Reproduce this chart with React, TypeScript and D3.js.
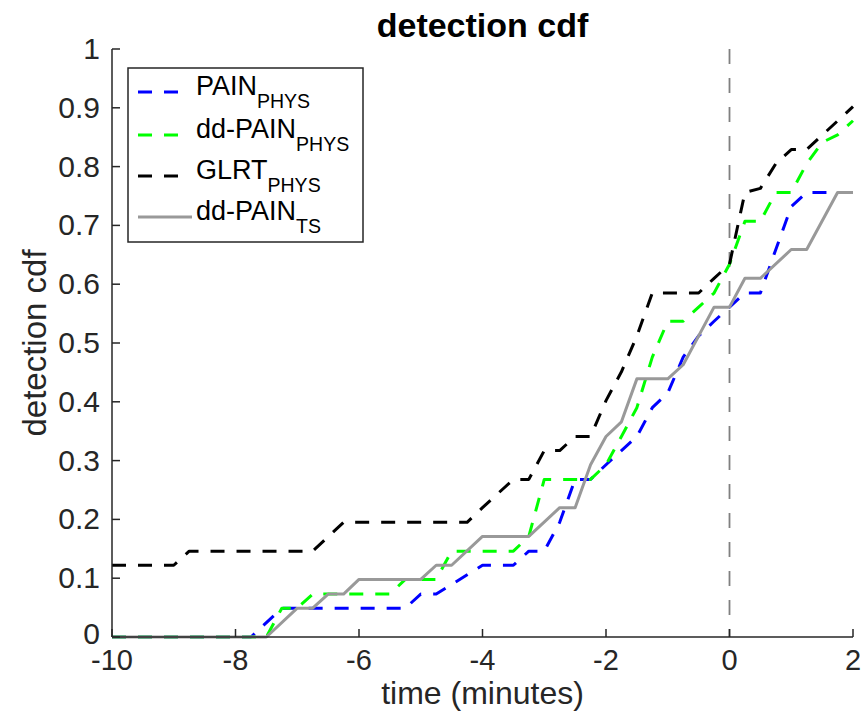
import React from "react";
import * as d3 from "d3";

const xTicks = [-10, -8, -6, -4, -2, 0, 2];
const yTicks = [0, 0.1, 0.2, 0.3, 0.4, 0.5, 0.6, 0.7, 0.8, 0.9, 1];
const yTickLabels = ["0", "0.1", "0.2", "0.3", "0.4", "0.5", "0.6", "0.7", "0.8", "0.9", "1"];

const painT = [-10, -7.75, -7.25, -5.25, -5, -4.75, -4, -3.5, -3.25, -3, -2.75, -2.5, -2.25, -2, -1.75, -1.5, -1.25, -1, -0.75, -0.5, -0.25, 0, 0.25, 0.5, 0.75, 1, 1.25, 2];
const painV = [0, 0, 0.049, 0.049, 0.073, 0.073, 0.122, 0.122, 0.146, 0.146, 0.195, 0.268, 0.268, 0.293, 0.317, 0.341, 0.39, 0.415, 0.476, 0.512, 0.537, 0.561, 0.585, 0.585, 0.659, 0.732, 0.756, 0.756];

const ddPainT = [-10, -7.5, -7.25, -7, -6.75, -5.5, -5.25, -4.75, -4.5, -3.5, -3.25, -3, -2.25, -2, -1.75, -1.5, -1.25, -1, -0.75, -0.5, -0.25, 0, 0.25, 0.5, 0.75, 1, 1.25, 1.5, 1.75, 2];
const ddPainV = [0, 0, 0.049, 0.049, 0.073, 0.073, 0.098, 0.098, 0.146, 0.146, 0.171, 0.268, 0.268, 0.293, 0.341, 0.39, 0.476, 0.537, 0.537, 0.561, 0.585, 0.634, 0.707, 0.707, 0.756, 0.756, 0.805, 0.841, 0.854, 0.878];

const glrtT = [-10, -9, -8.75, -6.75, -6.25, -4.25, -4, -3.5, -3.25, -3, -2.75, -2.5, -2.25, -2, -1.75, -1.5, -1.25, -0.5, -0.25, 0, 0.25, 0.5, 0.75, 1, 1.25, 2];
const glrtV = [0.122, 0.122, 0.146, 0.146, 0.195, 0.195, 0.22, 0.268, 0.268, 0.317, 0.317, 0.341, 0.341, 0.402, 0.451, 0.512, 0.585, 0.585, 0.61, 0.634, 0.756, 0.763, 0.805, 0.829, 0.829, 0.902];

const tsT = [-10, -7.5, -7, -6.75, -6.5, -6.25, -6, -5, -4.75, -4.5, -4, -3.25, -2.75, -2.5, -2.25, -2, -1.75, -1.5, -1, -0.75, -0.25, 0, 0.25, 0.5, 1, 1.25, 1.75, 2];
const tsV = [0, 0, 0.049, 0.049, 0.073, 0.073, 0.098, 0.098, 0.122, 0.122, 0.171, 0.171, 0.22, 0.22, 0.293, 0.341, 0.366, 0.439, 0.439, 0.463, 0.561, 0.561, 0.61, 0.61, 0.659, 0.659, 0.756, 0.756];

const seriesNames = ["PAIN", "dd-PAIN", "GLRT", "dd-PAIN"];
const seriesSubs = ["PHYS", "PHYS", "PHYS", "TS"];
const seriesColors = ["#0000ff", "#00ff00", "#000000", "#999999"];
const seriesDash = ["14 12", "14 12", "14 12", ""];

const W = 868;
const H = 715;
const M = { left: 112, right: 853, top: 49, bottom: 637 };
const FONT = "'Liberation Sans', Arial, Helvetica, sans-serif";
const AX = "#262626";

export default function App() {
  const x = d3.scaleLinear().domain([-10, 2]).range([M.left, M.right]);
  const y = d3.scaleLinear().domain([0, 1]).range([M.bottom, M.top]);
  const line = d3
    .line<[number, number]>()
    .x((d) => x(d[0]))
    .y((d) => y(d[1]));

  const series = [
    d3.zip(painT, painV),
    d3.zip(ddPainT, ddPainV),
    d3.zip(glrtT, glrtV),
    d3.zip(tsT, tsV),
  ] as [number, number][][];

  const legX = 128;
  const legY = 68;
  const legW = 235;
  const legH = 174;
  const rowY = [92, 135, 176, 217];

  return (
    <svg width={W} height={H} style={{ display: "block", position: "absolute", left: 0, top: 0, background: "#fff" }} fontFamily={FONT}>
      <rect x={0} y={0} width={W} height={H} fill="#fff" />
      <line x1={x(0)} x2={x(0)} y1={y(1)} y2={y(0)} stroke="#808080" strokeWidth={1.8} strokeDasharray="15 14" />
      {series.map((s, i) => (
        <path
          key={i}
          d={line(s) || ""}
          fill="none"
          stroke={seriesColors[i]}
          strokeWidth={3}
          strokeDasharray={seriesDash[i] || undefined}
          strokeLinejoin="round"
        />
      ))}
      <line x1={M.left} x2={M.left} y1={M.top} y2={M.bottom} stroke={AX} strokeWidth={1.5} />
      <line x1={M.left} x2={M.right} y1={M.bottom} y2={M.bottom} stroke={AX} strokeWidth={1.5} />
      {yTicks.map((t, i) => (
        <g key={"y" + i}>
          <line x1={M.left} x2={M.left + 8} y1={y(t)} y2={y(t)} stroke={AX} strokeWidth={1.5} />
          <text x={M.left - 12} y={y(t)} dy={t === 0 ? "0.22em" : "0.33em"} textAnchor="end" fontSize={30} fill={AX}>
            {yTickLabels[i]}
          </text>
        </g>
      ))}
      {xTicks.map((t, i) => (
        <g key={"x" + i}>
          <line x1={x(t)} x2={x(t)} y1={M.bottom} y2={M.bottom - 8} stroke={AX} strokeWidth={1.5} />
          <text x={x(t)} y={M.bottom + 33} textAnchor="middle" fontSize={29} fill={AX}>
            {String(t)}
          </text>
        </g>
      ))}
      <text x={(M.left + M.right) / 2} y={704} textAnchor="middle" fontSize={32} fill={AX}>
        time (minutes)
      </text>
      <text transform={`translate(46, ${(M.top + M.bottom) / 2}) rotate(-90)`} textAnchor="middle" fontSize={33} fill={AX}>
        detection cdf
      </text>
      <text x={(M.left + M.right) / 2} y={37} textAnchor="middle" fontSize={34} fontWeight="bold" fill="#000">
        detection cdf
      </text>
      <rect x={legX} y={legY} width={legW} height={legH} fill="#fff" stroke={AX} strokeWidth={1.5} />
      {seriesNames.map((n, i) => (
        <g key={"l" + i}>
          <line
            x1={legX + 10}
            x2={i === 3 ? legX + 64 : legX + 52}
            y1={rowY[i]}
            y2={rowY[i]}
            stroke={seriesColors[i]}
            strokeWidth={3}
            strokeDasharray={seriesDash[i] || undefined}
          />
          <text x={legX + 68} y={rowY[i] + 3} fontSize={27} fill="#000">
            {n}
            <tspan dy={13} fontSize={19.5}>
              {seriesSubs[i]}
            </tspan>
          </text>
        </g>
      ))}
    </svg>
  );
}
